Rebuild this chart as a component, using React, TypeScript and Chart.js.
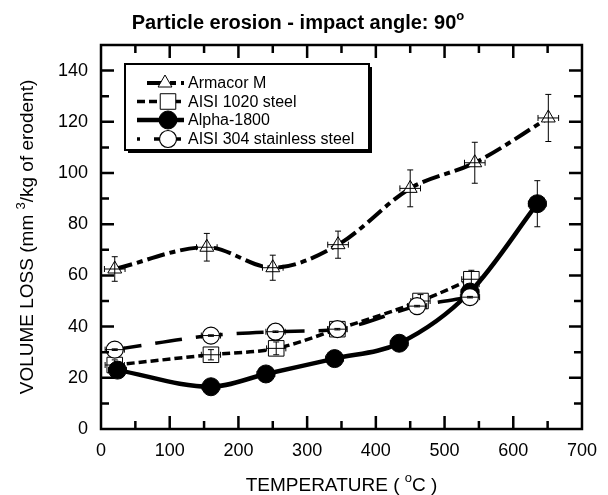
import React, { useEffect, useRef } from "react";
import { Chart, registerables } from "chart.js";

Chart.register(...registerables);

// ---------------- data ----------------
const armacorTemp = [20, 154, 250, 345, 450, 544, 651];
const armacorLoss = [62.5, 71, 63, 72, 94, 104, 121.5];
const armacorLossErr = [4.8, 5.4, 4.9, 5.3, 7.2, 8, 9.2];
const armacorTempErr = [15, 15, 15, 15, 15, 15, 15];

const aisi1020Temp = [20, 160, 255, 344, 465, 539];
const aisi1020Loss = [25, 29, 31.5, 39, 50, 58.5];
const aisi1020LossErr = [2, 2, 2.5, 2, 2.5, 3.5];
const aisi1020TempErr = [14, 14, 14, 14, 14, 14];

const alphaTemp = [24, 160, 240, 340, 434, 537, 635];
const alphaLoss = [23, 16.5, 21.5, 27.5, 33.5, 53.5, 88];
const alphaLossErr = [1.5, 1.5, 1.5, 1.5, 1.5, 2, 9];
const alphaTempErr = [13, 13, 13, 13, 13, 13, 13];

const aisi304Temp = [20, 160, 254, 344, 460, 537];
const aisi304Loss = [31, 36.5, 38, 39, 48, 51.5];
const aisi304LossErr = [0.3, 0.3, 0.3, 0.3, 0.3, 0.3];
const aisi304TempErr = [14, 14, 14, 14, 14, 14];

const seriesNames = ["Armacor M", "AISI 1020 steel", "Alpha-1800", "AISI 304 stainless steel"];

const xTickValues = [0, 100, 200, 300, 400, 500, 600, 700];
const yTickValues = [0, 20, 40, 60, 80, 100, 120, 140];

const FONT = "'Liberation Sans', Arial, Helvetica, sans-serif";

type Part = { text: string; sup?: boolean };

function drawRich(
  ctx: CanvasRenderingContext2D,
  parts: Part[],
  x: number,
  y: number,
  fontMain: string,
  fontSup: string,
  rise: number
) {
  ctx.save();
  ctx.textAlign = "left";
  ctx.textBaseline = "alphabetic";
  ctx.fillStyle = "#000";
  const widths = parts.map((p) => {
    ctx.font = p.sup ? fontSup : fontMain;
    return ctx.measureText(p.text).width;
  });
  const total = widths.reduce((a, b) => a + b, 0);
  let cx = x - total / 2;
  parts.forEach((p, i) => {
    ctx.font = p.sup ? fontSup : fontMain;
    ctx.fillText(p.text, cx, p.sup ? y - rise : y);
    cx += widths[i];
  });
  ctx.restore();
}

function mk(xs: number[], ys: number[]) {
  return xs.map((x, i) => ({ x, y: ys[i] }));
}

function drawMarker(ctx: CanvasRenderingContext2D, style: string, r: number, x: number, y: number) {
  ctx.beginPath();
  if (style === "triangle") {
    ctx.moveTo(x, y - r);
    ctx.lineTo(x + Math.sin((Math.PI * 2) / 3) * r, y + r / 2);
    ctx.lineTo(x - Math.sin((Math.PI * 2) / 3) * r, y + r / 2);
    ctx.closePath();
  } else if (style === "rect") {
    const s = Math.SQRT1_2 * r;
    ctx.rect(x - s, y - s, 2 * s, 2 * s);
  } else {
    ctx.arc(x, y, r, 0, Math.PI * 2);
  }
  ctx.fill();
  ctx.stroke();
}

export default function App() {
  const ref = useRef<HTMLCanvasElement | null>(null);

  useEffect(() => {
    if (!ref.current) return;

    const errorBars = {
      id: "errorBars",
      afterDatasetDraw(chart: any, args: any) {
        const ds = chart.data.datasets[args.index];
        const xe: number[] = ds.tempErr;
        const ye: number[] = ds.lossErr;
        if (!xe || !ye) return;
        const xs = chart.scales.x;
        const ys = chart.scales.y;
        const ctx = chart.ctx as CanvasRenderingContext2D;
        ctx.save();
        ctx.strokeStyle = "#000";
        ctx.lineWidth = 1;
        ctx.setLineDash([]);
        const cap = 3;
        ds.data.forEach((pt: any, i: number) => {
          const px = xs.getPixelForValue(pt.x);
          const py = ys.getPixelForValue(pt.y);
          const y1 = ys.getPixelForValue(pt.y + ye[i]);
          const y2 = ys.getPixelForValue(pt.y - ye[i]);
          const x1 = xs.getPixelForValue(pt.x - xe[i]);
          const x2 = xs.getPixelForValue(pt.x + xe[i]);
          ctx.beginPath();
          ctx.moveTo(px, y1);
          ctx.lineTo(px, y2);
          ctx.moveTo(px - cap, y1);
          ctx.lineTo(px + cap, y1);
          ctx.moveTo(px - cap, y2);
          ctx.lineTo(px + cap, y2);
          ctx.moveTo(x1, py);
          ctx.lineTo(x2, py);
          ctx.moveTo(x1, py - cap);
          ctx.lineTo(x1, py + cap);
          ctx.moveTo(x2, py - cap);
          ctx.lineTo(x2, py + cap);
          ctx.stroke();
        });
        ctx.restore();
      },
    };

    const frame = {
      id: "frame",
      afterDraw(chart: any) {
        const ctx = chart.ctx as CanvasRenderingContext2D;
        const a = chart.chartArea;
        const xs = chart.scales.x;
        const ys = chart.scales.y;
        ctx.save();
        ctx.strokeStyle = "#000";
        ctx.lineWidth = 2.5;
        ctx.setLineDash([]);
        ctx.strokeRect(a.left, a.top, a.right - a.left, a.bottom - a.top);
        ctx.beginPath();
        for (let v = 50; v < 700; v += 50) {
          const len = v % 100 === 0 ? 13 : 8;
          const px = xs.getPixelForValue(v);
          ctx.moveTo(px, a.bottom);
          ctx.lineTo(px, a.bottom - len);
          ctx.moveTo(px, a.top);
          ctx.lineTo(px, a.top + len);
        }
        for (let v = 10; v < 150; v += 10) {
          const len = v % 20 === 0 ? 13 : 8;
          const py = ys.getPixelForValue(v);
          ctx.moveTo(a.left, py);
          ctx.lineTo(a.left + len, py);
          ctx.moveTo(a.right, py);
          ctx.lineTo(a.right - len, py);
        }
        ctx.stroke();
        ctx.restore();

        // titles
        drawRich(
          ctx,
          [{ text: "Particle erosion - impact angle: 90" }, { text: "o", sup: true }],
          298,
          29,
          `bold 20px ${FONT}`,
          `bold 13px ${FONT}`,
          9
        );
        drawRich(
          ctx,
          [{ text: "TEMPERATURE ( " }, { text: "o", sup: true }, { text: "C )" }],
          (a.left + a.right) / 2,
          491,
          `19px ${FONT}`,
          `13px ${FONT}`,
          9
        );
        ctx.save();
        ctx.translate(33, (a.top + a.bottom) / 2);
        ctx.rotate(-Math.PI / 2);
        drawRich(
          ctx,
          [{ text: "VOLUME LOSS (mm " }, { text: "3", sup: true }, { text: "/kg of erodent)" }],
          0,
          0,
          `19px ${FONT}`,
          `13px ${FONT}`,
          8
        );
        ctx.restore();

        // legend
        const lx = 125, ly = 64, lw = 244, lh = 86;
        ctx.save();
        ctx.fillStyle = "#000";
        ctx.fillRect(lx + 3, ly + 3, lw, lh);
        ctx.fillStyle = "#fff";
        ctx.fillRect(lx, ly, lw, lh);
        ctx.strokeStyle = "#000";
        ctx.lineWidth = 2;
        ctx.strokeRect(lx, ly, lw, lh);
        const order = [3, 2, 1, 0]; // dataset indices: Armacor, 1020, Alpha, 304
        const rows = [83, 101.5, 120, 139];
        const starts = [147, 137, 137, 137];
        const offsets = [0, 0, 0, 24];
        order.forEach((dsIndex, r) => {
          const ds: any = chart.data.datasets[dsIndex];
          const y = rows[r];
          ctx.save();
          ctx.strokeStyle = "#000";
          ctx.lineWidth = ds.borderWidth;
          ctx.setLineDash(ds.borderDash || []);
          ctx.lineDashOffset = offsets[r];
          ctx.beginPath();
          ctx.moveTo(starts[r], y);
          ctx.lineTo(184, y);
          ctx.stroke();
          ctx.restore();
          ctx.save();
          ctx.setLineDash([]);
          ctx.fillStyle = ds.pointBackgroundColor;
          ctx.strokeStyle = "#000";
          ctx.lineWidth = ds.pointBorderWidth;
          const mx = r === 0 ? 165 : 168;
          drawMarker(ctx, ds.pointStyle, ds.pointRadius, mx, y);
          ctx.restore();
          ctx.save();
          ctx.fillStyle = "#000";
          ctx.font = `16px ${FONT}`;
          ctx.textBaseline = "middle";
          ctx.textAlign = "left";
          ctx.fillText(seriesNames[r], 188, y + 1);
          ctx.restore();
        });
        ctx.restore();
      },
    };

    const chart = new Chart(ref.current, {
      type: "line",
      data: {
        datasets: [
          {
            label: seriesNames[3],
            data: mk(aisi304Temp, aisi304Loss),
            tempErr: aisi304TempErr,
            lossErr: aisi304LossErr,
            borderColor: "#000",
            borderWidth: 3.5,
            borderDash: [27, 14],
            pointStyle: "circle",
            pointRadius: 8.5,
            pointBackgroundColor: "#fff",
            pointBorderColor: "#000",
            pointBorderWidth: 1.2,
            cubicInterpolationMode: "monotone",
            fill: false,
          },
          {
            label: seriesNames[2],
            data: mk(alphaTemp, alphaLoss),
            tempErr: alphaTempErr,
            lossErr: alphaLossErr,
            borderColor: "#000",
            borderWidth: 4.5,
            borderDash: [],
            pointStyle: "circle",
            pointRadius: 9,
            pointBackgroundColor: "#000",
            pointBorderColor: "#000",
            pointBorderWidth: 1,
            cubicInterpolationMode: "monotone",
            fill: false,
          },
          {
            label: seriesNames[1],
            data: mk(aisi1020Temp, aisi1020Loss),
            tempErr: aisi1020TempErr,
            lossErr: aisi1020LossErr,
            borderColor: "#000",
            borderWidth: 3.5,
            borderDash: [8, 4],
            pointStyle: "rect",
            pointRadius: 11,
            pointBackgroundColor: "#fff",
            pointBorderColor: "#000",
            pointBorderWidth: 1,
            cubicInterpolationMode: "monotone",
            fill: false,
          },
          {
            label: seriesNames[0],
            data: mk(armacorTemp, armacorLoss),
            tempErr: armacorTempErr,
            lossErr: armacorLossErr,
            borderColor: "#000",
            borderWidth: 4,
            borderDash: [18, 5, 6, 5],
            pointStyle: "triangle",
            pointRadius: 8,
            pointBackgroundColor: "#fff",
            pointBorderColor: "#000",
            pointBorderWidth: 1,
            cubicInterpolationMode: "monotone",
            fill: false,
          },
        ] as any,
      },
      options: {
        responsive: false,
        animation: false,
        events: [],
        layout: { padding: { left: 0, right: 26, top: 45, bottom: 0 } },
        plugins: {
          legend: { display: false },
          title: { display: false },
          tooltip: { enabled: false },
        },
        scales: {
          x: {
            type: "linear",
            min: 0,
            max: 700,
            grid: { display: false, drawTicks: false },
            border: { display: false },
            afterBuildTicks: (s: any) => {
              s.ticks = xTickValues.map((v) => ({ value: v }));
            },
            afterFit: (s: any) => {
              s.height = 66;
            },
            ticks: {
              color: "#000",
              font: { family: FONT, size: 18 },
              padding: 11,
              maxRotation: 0,
              autoSkip: false,
            },
          },
          y: {
            type: "linear",
            min: 0,
            max: 150,
            grid: { display: false, drawTicks: false },
            border: { display: false },
            afterBuildTicks: (s: any) => {
              s.ticks = yTickValues.map((v) => ({ value: v }));
            },
            afterFit: (s: any) => {
              s.width = 101;
            },
            ticks: {
              color: "#000",
              font: { family: FONT, size: 18 },
              padding: 13,
              autoSkip: false,
            },
          },
        },
      } as any,
      plugins: [errorBars, frame],
    });

    return () => chart.destroy();
  }, []);

  return (
    <div style={{ position: "fixed", left: 0, top: 0, width: 608, height: 495, background: "#fff" }}>
      <canvas ref={ref} width={608} height={495} style={{ display: "block" }} />
    </div>
  );
}
